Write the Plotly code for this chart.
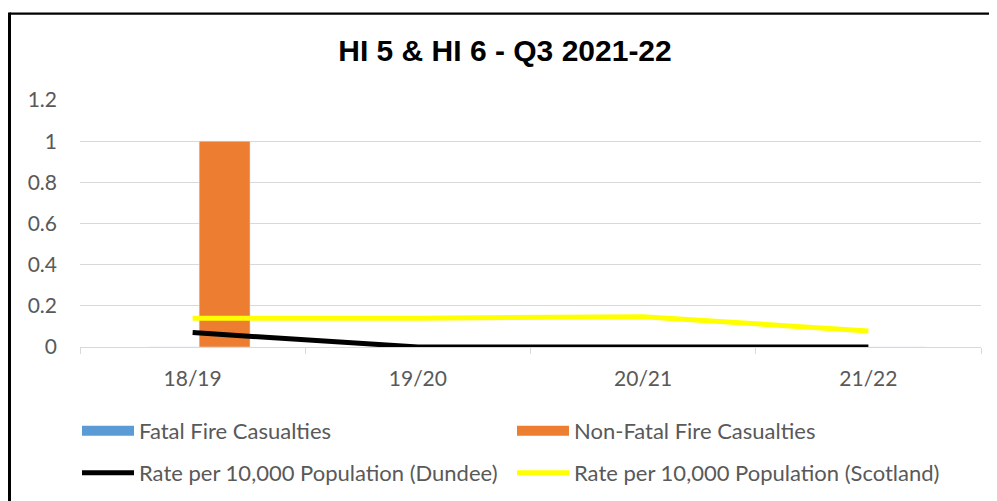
import plotly.graph_objects as go

categories = ["18/19", "19/20", "20/21", "21/22"]
fatal = [0, 0, 0, 0]
non_fatal = [1, 0, 0, 0]
rate_dundee = [0.07, 0, 0, 0]
rate_scotland = [0.14, 0.14, 0.147, 0.078]
y_ticks = [0, 0.2, 0.4, 0.6, 0.8, 1, 1.2]

OFF = 8  # page body margin
W, H = 997 - OFF, 501 - OFF
L, T = 72, 92
PW, PH = 901, 247
R = W - L - PW
B = H - T - PH

def px_x(p):
    # p: page pixel x -> paper coordinate
    return (p - OFF - L) / PW

def px_y(p):
    # p: page pixel y -> paper coordinate
    return (T + PH - (p - OFF)) / PH

font_main = "Lato, Calibri, sans-serif"
grey = "#595959"

fig = go.Figure()
fig.add_trace(go.Bar(x=categories, y=fatal, name="Fatal Fire Casualties",
                     marker_color="#5B9BD5", offset=-0.197, width=0.226,
                     showlegend=False, legendgroup="f"))
fig.add_trace(go.Bar(x=categories, y=non_fatal, name="Non-Fatal Fire Casualties",
                     marker_color="#ED7D31", offset=0.029, width=0.226,
                     showlegend=False, legendgroup="nf"))
# legend entries styled as wide swatches (row 1)
fig.add_trace(go.Scatter(x=[None], y=[None], mode="lines", name="Fatal Fire Casualties",
                         line=dict(color="#5B9BD5", width=13), legendgroup="f", legend="legend"))
fig.add_trace(go.Scatter(x=[None], y=[None], mode="lines", name="Non-Fatal Fire Casualties",
                         line=dict(color="#ED7D31", width=13), legendgroup="nf", legend="legend"))
# line series (row 2 of legend)
fig.add_trace(go.Scatter(x=categories, y=rate_dundee, mode="lines",
                         name="Rate per 10,000 Population (Dundee)",
                         line=dict(color="#000000", width=5), legend="legend2"))
fig.add_trace(go.Scatter(x=categories, y=rate_scotland, mode="lines",
                         name="Rate per 10,000 Population (Scotland)",
                         line=dict(color="#FFFF00", width=5), legend="legend2"))

legend_common = dict(orientation="h", xanchor="left", yanchor="middle",
                     entrywidth=368, entrywidthmode="pixels", itemwidth=52,
                     font=dict(family=font_main, size=22, color=grey),
                     traceorder="normal", bgcolor="rgba(0,0,0,0)", borderwidth=0)

fig.update_layout(
    width=W, height=H,
    margin=dict(l=L, r=R, t=T, b=B, autoexpand=False),
    paper_bgcolor="white", plot_bgcolor="white",
    barmode="overlay",
    title=dict(text="<b>HI 5 &amp; HI 6 - Q3 2021-22</b>", x=px_x(505), xref="paper",
               xanchor="center", y=1 - (50 - OFF) / H, yanchor="middle",
               font=dict(family="Liberation Sans, Arial, sans-serif", size=30, color="black")),
    font=dict(family=font_main, size=21, color=grey),
    legend=dict(legend_common, x=px_x(77), y=px_y(431)),
    legend2=dict(legend_common, x=px_x(77), y=px_y(473)),
    showlegend=True,
    shapes=[
        dict(type="line", xref="paper", yref="paper", x0=px_x(9.5), x1=px_x(1020),
             y0=px_y(13.7), y1=px_y(13.7), line=dict(color="black", width=2.2)),
        dict(type="line", xref="paper", yref="paper", x0=px_x(9.5), x1=px_x(9.5),
             y0=px_y(12.6), y1=px_y(520), line=dict(color="black", width=3)),
    ],
)
fig.update_xaxes(type="category", showgrid=False, showline=True, linecolor="#D9D9D9",
                 linewidth=1.3, ticks="outside", tickson="boundaries", ticklen=6,
                 tickcolor="#D9D9D9", tickwidth=1.3, ticklabelstandoff=13,
                 tickfont=dict(size=21, color=grey), range=[-0.5, 3.5])
fig.update_yaxes(range=[0, 1.2], tickvals=y_ticks, ticktext=[str(v) for v in y_ticks],
                 showgrid=True, gridcolor="#D9D9D9", gridwidth=1.3, zeroline=False,
                 showline=False, ticks="", ticklabelstandoff=22,
                 tickfont=dict(size=21, color=grey))

fig.write_html("out.html",
               post_script="document.documentElement.style.overflow='hidden';"
                           "document.body.style.overflow='hidden';")
